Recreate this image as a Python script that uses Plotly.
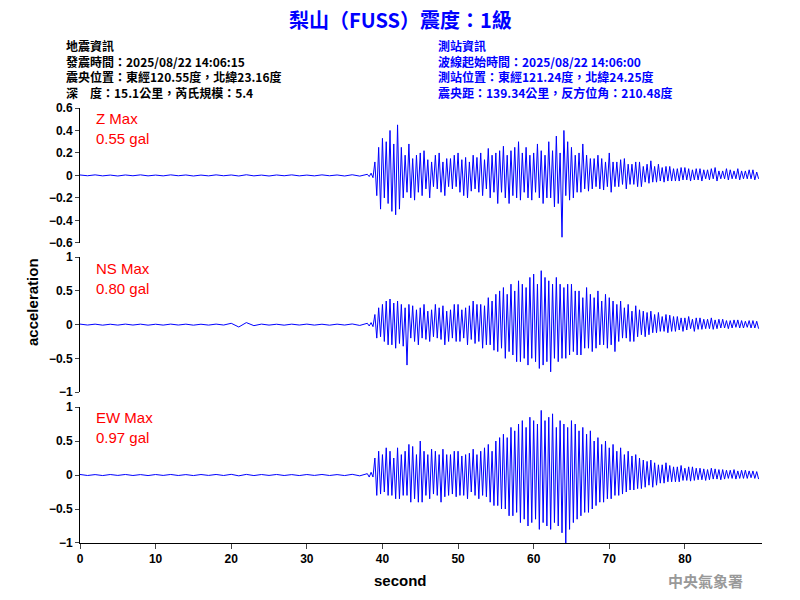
import numpy as np
import plotly.graph_objects as go
from plotly.subplots import make_subplots

# quiet part before the P arrival, one sample per second (0..37 s)
quiet_z = [0.004, -0.003, 0.005, -0.004, 0.003, -0.005, 0.004, -0.003, 0.005, -0.004,
           0.003, -0.004, 0.005, -0.003, 0.004, -0.005, 0.003, -0.004, 0.005, -0.003,
           0.004, -0.005, 0.006, -0.004, 0.003, -0.005, 0.004, -0.003, 0.005, -0.004,
           0.003, -0.004, 0.005, -0.003, 0.004, -0.005, 0.006, -0.006]
quiet_ns = [0.008, -0.006, 0.007, -0.008, 0.006, -0.007, 0.008, -0.006, 0.007, -0.008,
            0.006, -0.007, 0.008, -0.006, 0.007, -0.008, 0.006, -0.007, 0.008, -0.006,
            0.02, -0.035, 0.03, -0.015, 0.008, -0.007, 0.006, -0.008, 0.007, -0.006,
            0.008, -0.007, 0.006, -0.008, 0.007, -0.006, 0.01, -0.012]
quiet_ew = [0.008, -0.007, 0.006, -0.008, 0.007, -0.006, 0.008, -0.007, 0.006, -0.008,
            0.007, -0.006, 0.008, -0.007, 0.006, -0.008, 0.007, -0.006, 0.008, -0.007,
            0.01, -0.012, 0.009, -0.008, 0.007, -0.006, 0.008, -0.007, 0.006, -0.008,
            0.007, -0.006, 0.008, -0.007, 0.006, -0.008, 0.01, -0.012]

# strong motion, four samples per second from 38 s to 90 s
wave_z = [
    .01, -.01, .02, -.02, .12, -.18, .25, -.3, .33, -.2, .3, -.25, .4, -.32, .28, -.35,
    .45, -.3, .25, -.2, .18, -.15, .28, -.2, .15, -.22, .18, -.15, .2, -.18, .22, -.12,
    .14, -.2, .12, -.1, .18, -.12, .2, -.15, .12, -.18, .15, -.1, .15, -.12, .18, -.1,
    .2, -.15, .14, -.18, .16, -.2, .12, -.14, .18, -.12, .16, -.15, .2, -.18, .14, -.12,
    .24, -.2, .18, -.15, .2, -.25, .22, -.15, .26, -.2, .18, -.25, .22, -.18, .25, -.2,
    .3, -.22, .2, -.15, .25, -.2, .18, -.22, .2, -.15, .28, -.2, .22, -.25, .18, -.2,
    .3, -.2, .22, -.28, .35, -.25, .2, -.55, .4, -.18, .3, -.22, .25, -.2, .18, -.15,
    .2, -.15, .28, -.12, .18, -.14, .15, -.12, .15, -.1, .18, -.12, .15, -.13, .12, -.1,
    .2, -.15, .12, -.1, .12, -.1, .14, -.08, .15, -.12, .1, -.08, .1, -.08, .12, -.1,
    .12, -.1, .08, -.06, .1, -.07, .13, -.06, .08, -.06, .1, -.05, .07, -.06, .08, -.05,
    .08, -.05, .06, -.05, .06, -.05, .07, -.04, .07, -.04, .06, -.05, .05, -.04, .06, -.04,
    .06, -.05, .05, -.03, .05, -.04, .06, -.03, .07, -.05, .04, -.03, .04, -.03, .06, -.04,
    .05, -.03, .04, -.03, .06, -.04, .04, -.03, .04, -.03, .05, -.03, .05, -.04, .03, -.03]
wave_ns = [
    .02, -.02, .03, -.03, .15, -.2, .25, -.18, .3, -.25, .35, -.3, .38, -.3, .32, -.35,
    .35, -.28, .3, -.32, .25, -.6, .3, -.2, .28, -.25, .22, -.3, .25, -.2, .3, -.22,
    .2, -.25, .22, -.18, .3, -.2, .25, -.22, .28, -.3, .2, -.25, .22, -.2, .3, -.25,
    .3, -.25, .22, -.2, .25, -.3, .28, -.22, .35, -.28, .3, -.25, .3, -.35, .28, -.3,
    .4, -.3, .35, -.38, .45, -.4, .5, -.35, .55, -.5, .45, -.4, .6, -.45, .5, -.55,
    .65, -.55, .6, -.5, .55, -.6, .7, -.5, .75, -.55, .6, -.65, .8, -.6, .7, -.55,
    .65, -.7, .6, -.5, .7, -.55, .6, -.5, .55, -.5, .6, -.45, .6, -.4, .5, -.45,
    .5, -.45, .4, -.35, .55, -.35, .45, -.4, .4, -.35, .5, -.3, .35, -.3, .45, -.35,
    .4, -.3, .35, -.4, .3, -.25, .35, -.2, .25, -.2, .3, -.25, .2, -.25, .28, -.18,
    .22, -.15, .2, -.18, .18, -.15, .2, -.12, .15, -.12, .18, -.1, .12, -.1, .15, -.12,
    .14, -.1, .12, -.1, .12, -.08, .1, -.1, .1, -.08, .12, -.06, .08, -.1, .1, -.07,
    .1, -.07, .08, -.06, .08, -.06, .1, -.07, .07, -.06, .08, -.05, .08, -.05, .06, -.06,
    .06, -.05, .07, -.04, .07, -.05, .06, -.05, .05, -.04, .06, -.05, .06, -.05, .05, -.06]
wave_ew = [
    .02, -.03, .04, -.03, .25, -.3, .35, -.28, .3, -.25, .4, -.3, .35, -.3, .25, -.35,
    .4, -.35, .3, -.3, .35, -.3, .45, -.4, .42, -.35, .3, -.4, .5, -.4, .35, -.3,
    .3, -.35, .38, -.28, .35, -.3, .3, -.4, .38, -.32, .3, -.3, .3, -.28, .35, -.32,
    .35, -.3, .28, -.3, .3, -.35, .32, -.25, .38, -.3, .3, -.35, .35, -.3, .4, -.32,
    .45, -.4, .35, -.45, .5, -.45, .55, -.5, .6, -.5, .55, -.6, .7, -.6, .65, -.55,
    .75, -.7, .8, -.65, .7, -.75, .85, -.7, .8, -.65, .75, -.8, .95, -.7, .8, -.75,
    .85, -.8, .9, -.7, .7, -.75, .8, -.85, .75, -1.0, .7, -.8, .8, -.7, .75, -.65,
    .65, -.6, .7, -.55, .6, -.55, .65, -.5, .5, -.45, .55, -.4, .45, -.4, .5, -.35,
    .4, -.35, .45, -.3, .35, -.3, .4, -.28, .3, -.25, .35, -.22, .28, -.22, .3, -.2,
    .25, -.2, .22, -.18, .2, -.15, .22, -.18, .18, -.15, .15, -.12, .15, -.12, .18, -.1,
    .14, -.1, .12, -.1, .12, -.1, .14, -.08, .1, -.08, .12, -.09, .12, -.08, .1, -.07,
    .1, -.07, .09, -.08, .08, -.07, .1, -.06, .09, -.06, .08, -.07, .08, -.06, .07, -.05,
    .07, -.05, .08, -.06, .06, -.05, .07, -.05, .07, -.05, .06, -.04, .06, -.05, .05, -.06]

components = ["Z", "NS", "EW"]
max_gal = ["0.55", "0.80", "0.97"]
y_limits = [0.6, 1.0, 1.0]

left_lines = ["地震資訊", "發震時間：2025/08/22 14:06:15",
              "震央位置：東經120.55度，北緯23.16度", "深　度：15.1公里，芮氏規模：5.4"]
right_lines = ["測站資訊", "波線起始時間：2025/08/22 14:06:00",
               "測站位置：東經121.24度，北緯24.25度", "震央距：139.34公里，反方位角：210.48度"]

t_quiet = np.arange(len(quiet_z)) * 1.0
t_wave = 38 + np.arange(len(wave_z)) * 0.25
t = np.concatenate([t_quiet, t_wave])
series = [quiet_z + wave_z, quiet_ns + wave_ns, quiet_ew + wave_ew]

fig = make_subplots(rows=3, cols=1, shared_xaxes=False, vertical_spacing=0.035)
tickfont = dict(family="Arial", size=12, color="black", weight="bold")

for i, (comp, vals) in enumerate(zip(components, series)):
    fig.add_trace(go.Scatter(x=t, y=vals, mode="lines",
                             line=dict(color="#0000ff", width=1), showlegend=False),
                  row=i + 1, col=1)
    lim = y_limits[i]
    dtick = 0.2 if lim < 1 else 0.5
    fig.update_yaxes(range=[-lim, lim], dtick=dtick, showline=True, linecolor="black",
                     ticks="outside", ticklen=4, showgrid=False, zeroline=False,
                     tickfont=tickfont, row=i + 1, col=1)
    fig.update_xaxes(range=[0, 90.2], showgrid=False, zeroline=False,
                     showticklabels=(i == 2), showline=(i == 2), linecolor="black",
                     ticks="outside" if i == 2 else "",
                     tickvals=[0, 10, 20, 30, 40, 50, 60, 70, 80],
                     tickfont=tickfont, row=i + 1, col=1)

fig.update_yaxes(domain=[0.690, 1.0], row=1, col=1)
fig.update_yaxes(domain=[0.347, 0.657], row=2, col=1)
fig.update_yaxes(domain=[0.0, 0.3126], row=3, col=1)

# page is drawn with an 8px offset, so target pixels are shifted back
OFF = 8
H = 435.0
def py(p):
    return (543 - p) / H
def px(p):
    return (p - 80) / 682.0

ann = []
for i, comp in enumerate(components):
    top = [118, 268, 417][i]
    ann.append(dict(x=px(94), y=py(top + 10), text=comp + " Max<br>" + max_gal[i] + " gal",
                    xanchor="left", yanchor="middle", align="left",
                    font=dict(family="Arial", size=15, color="red")))

cjk = "Noto Sans CJK TC"
ann.append(dict(x=px(400), y=py(20), text="<b>梨山（FUSS）震度：1級</b>", xanchor="center",
                yanchor="middle", font=dict(family=cjk, size=20, color="#0000ff")))
ann.append(dict(x=px(64), y=py(69), text="<br>".join("<b>" + s + "</b>" for s in left_lines),
                xanchor="left", yanchor="middle", align="left",
                font=dict(family=cjk, size=12, color="black")))
ann.append(dict(x=px(436), y=py(69), text="<br>".join("<b>" + s + "</b>" for s in right_lines),
                xanchor="left", yanchor="middle", align="left",
                font=dict(family=cjk, size=12, color="#0000ff")))

ann.append(dict(x=px(400), y=py(580), text="<b>second</b>", xanchor="center", yanchor="middle",
                font=dict(family="Arial", size=15, color="black")))
ann.append(dict(x=px(32), y=py(302), text="<b>acceleration</b>", textangle=-90, xanchor="center",
                yanchor="middle", font=dict(family="Arial", size=15, color="black")))
ann.append(dict(x=px(745), y=py(580), text="<b>中央氣象署</b>", xanchor="right", yanchor="middle",
                font=dict(family=cjk, size=15, color="#999999")))
for a in ann:
    a.update(xref="paper", yref="paper", showarrow=False)

fig.update_layout(width=800, height=600,
                  margin=dict(l=80 - OFF, r=38 + OFF, t=108 - OFF, b=57 + OFF),
                  paper_bgcolor="white", plot_bgcolor="white", annotations=ann)

fig.write_html("out.html")
